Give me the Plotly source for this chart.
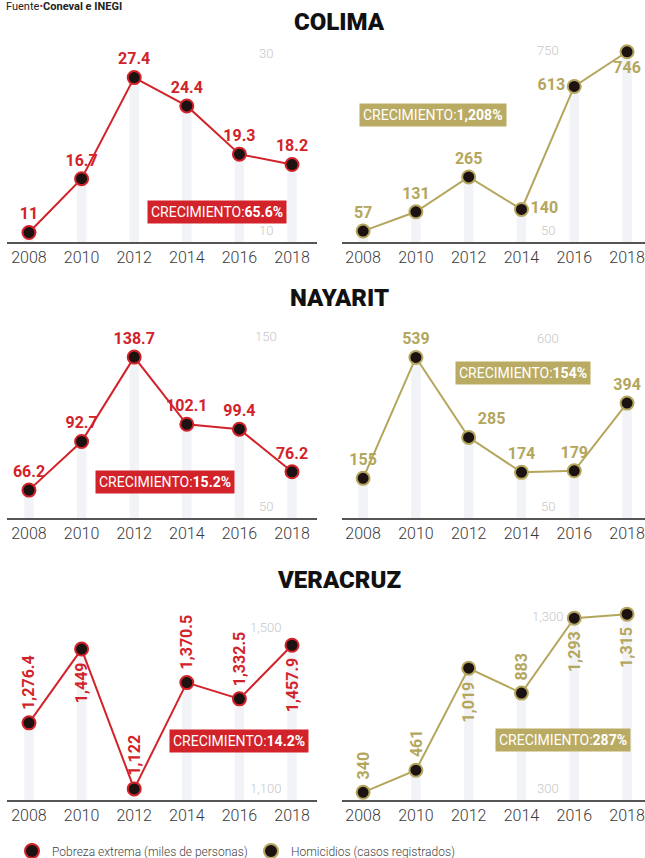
import plotly.graph_objects as go

# ---------------- data ----------------
years = ["2008", "2010", "2012", "2014", "2016", "2018"]
states = ["COLIMA", "NAYARIT", "VERACRUZ"]

pobreza_colima = [11, 16.7, 27.4, 24.4, 19.3, 18.2]
pobreza_nayarit = [66.2, 92.7, 138.7, 102.1, 99.4, 76.2]
pobreza_veracruz = [1276.4, 1449, 1122, 1370.5, 1332.5, 1457.9]

homicidios_colima = [57, 131, 265, 140, 613, 746]
homicidios_nayarit = [155, 539, 285, 174, 179, 394]
homicidios_veracruz = [340, 461, 1019, 883, 1293, 1315]

crecimiento_pobreza = ["65.6%", "15.2%", "14.2%"]
crecimiento_homicidios = ["1,208%", "154%", "287%"]

escala_pobreza_baja = [10, 50, 1100]
escala_pobreza_alta = [30, 150, 1500]
escala_homicidios_baja = [50, 50, 300]
escala_homicidios_alta = [750, 600, 1300]

nombre_pobreza = "Pobreza extrema (miles de personas)"
nombre_homicidios = "Homicidios (casos registrados)"
fuente = "Fuente<span style='color:#d2232a'>•</span><b>Coneval e INEGI</b>"

# ---------------- style ----------------
W, H = 645, 858
RED = "#d2232a"
GOLD = "#b4a65d"
GOLD_BOX = "#b9ab63"
BAR = "#f1f3f7"
MARKER_FILL = "#1c1212"
FONT = "Roboto"

def py(px):
    return 1 - px / H

row_px = [(45, 242), (325, 518), (605, 800)]       # top, axis line (pixels)
title_px = [22, 298, 580]
left_dom = [7 / W, 317 / W]
right_dom = [342 / W, 1.0]
left_xrange = [-0.418, 5.475]
right_xrange = [-0.40, 5.34]

pob_ranges = [[10, 30.85], [51, 156.2], [1096, 1552]]
hom_ranges = [[15, 772], [29, 642], [298, 1365]]

pob_textpos = [
    ["top center"] * 6,
    ["top center"] * 6,
    None,
]
hom_textpos = [
    ["top center", "top center", "top center", "middle right", "middle left", "bottom center"],
    ["top center", "top center", "top right", "top center", "top center", "top center"],
    None,
]
pob_rot_dir = [1, -1, 1, 1, 1, -1]
hom_rot_dir = [1, 1, -1, 1, -1, -1]

box_pob = [(3.57, 200), (2.59, 482), (4.0, 753)]
box_hom = [(1.33, 103), (3.03, 373), (3.79, 752)]

pobreza = [pobreza_colima, pobreza_nayarit, pobreza_veracruz]
homicidios = [homicidios_colima, homicidios_nayarit, homicidios_veracruz]

def fmt(v):
    return f"{v:,}"

fig = go.Figure()
annotations = []
layout_axes = {}

panel = 0
for r in range(3):
    for side in range(2):
        panel += 1
        xa = "x" if panel == 1 else f"x{panel}"
        ya = "y" if panel == 1 else f"y{panel}"
        xkey = "xaxis" if panel == 1 else f"xaxis{panel}"
        ykey = "yaxis" if panel == 1 else f"yaxis{panel}"
        if side == 0:
            vals = pobreza[r]
            color = RED
            boxcolor = RED
            yr = pob_ranges[r]
            tpos = pob_textpos[r]
            rot_dir = pob_rot_dir
            grow = crecimiento_pobreza[r]
            box = box_pob[r]
            low, high = escala_pobreza_baja[r], escala_pobreza_alta[r]
            dom, xr = left_dom, left_xrange
            scale_x = 4.5
        else:
            vals = homicidios[r]
            color = GOLD
            boxcolor = GOLD_BOX
            yr = hom_ranges[r]
            tpos = hom_textpos[r]
            rot_dir = hom_rot_dir
            grow = crecimiento_homicidios[r]
            box = box_hom[r]
            low, high = escala_homicidios_baja[r], escala_homicidios_alta[r]
            dom, xr = right_dom, right_xrange
            scale_x = 3.5

        top, axis = row_px[r]
        layout_axes[xkey] = dict(
            domain=dom, range=xr, type="category", anchor=ya,
            showline=True, linecolor="#555555", linewidth=1.6,
            ticks="", showgrid=False, zeroline=False, fixedrange=True,
            tickfont=dict(family=FONT, size=16, color="#3a3a3a", weight=300),
        )
        layout_axes[ykey] = dict(
            domain=[py(axis), py(top)], range=yr, anchor=xa,
            visible=False, showgrid=False, zeroline=False, fixedrange=True,
        )

        # faint vertical bars
        fig.add_trace(go.Bar(
            x=years, y=vals, xaxis=xa, yaxis=ya, width=0.18,
            marker=dict(color=BAR, line=dict(width=0)),
            hoverinfo="skip", showlegend=False,
        ))
        labels = [fmt(v) for v in vals]
        if tpos is not None:
            fig.add_trace(go.Scatter(
                x=years, y=vals, xaxis=xa, yaxis=ya, mode="lines+markers+text",
                line=dict(color=color, width=2),
                marker=dict(size=13, color=MARKER_FILL, line=dict(color=color, width=2)),
                text=labels, textposition=tpos,
                textfont=dict(family=FONT, size=16, color=color, weight=700),
                cliponaxis=False, showlegend=False,
            ))
        else:
            fig.add_trace(go.Scatter(
                x=years, y=vals, xaxis=xa, yaxis=ya, mode="lines+markers",
                line=dict(color=color, width=2),
                marker=dict(size=13, color=MARKER_FILL, line=dict(color=color, width=2)),
                cliponaxis=False, showlegend=False,
            ))
            for i, (yv, t) in enumerate(zip(vals, labels)):
                d = rot_dir[i]
                annotations.append(dict(
                    x=i, y=yv, xref=xa, yref=ya, text=f"<b>{t}</b>",
                    textangle=-90, showarrow=False,
                    yanchor="bottom" if d > 0 else "top",
                    yshift=11 * d,
                    font=dict(family=FONT, size=16, color=color),
                ))

        # scale labels
        annotations.append(dict(
            x=scale_x, y=high, xref=xa, yref=ya, text=f"{high:,}",
            showarrow=False, yanchor="middle",
            font=dict(family=FONT, size=13, color="#c8c8c8", weight=300),
        ))
        annotations.append(dict(
            x=scale_x, y=yr[0], xref=xa, yref=ya, text=f"{low:,}",
            showarrow=False, yanchor="bottom", yshift=2,
            font=dict(family=FONT, size=13, color="#c8c8c8", weight=300),
        ))
        # growth box
        annotations.append(dict(
            x=box[0], y=py(box[1]), xref=xa, yref="paper",
            text=f"CRECIMIENTO:<b>{grow}</b>", showarrow=False,
            bgcolor=boxcolor, borderpad=3,
            font=dict(family=FONT, size=14, color="white"),
        ))

for r, name in enumerate(states):
    annotations.append(dict(
        x=339 / W, y=py(title_px[r]), xref="paper", yref="paper",
        text=name, showarrow=False, yanchor="middle",
        font=dict(family=FONT, size=24, color="#111111", weight=900),
    ))

annotations.append(dict(
    x=4 / W, y=1.0, xref="paper", yref="paper", xanchor="left",
    yanchor="top", yshift=2, text=fuente, showarrow=False,
    font=dict(family=FONT, size=11, color="#222222"),
))

# legend-only traces
fig.add_trace(go.Scatter(
    x=[None], y=[None], mode="markers", name=nombre_pobreza,
    marker=dict(size=14, color=MARKER_FILL, line=dict(color=RED, width=2)),
))
fig.add_trace(go.Scatter(
    x=[None], y=[None], mode="markers", name=nombre_homicidios,
    marker=dict(size=14, color=MARKER_FILL, line=dict(color=GOLD, width=2)),
))

fig.update_layout(
    width=W, height=H,
    margin=dict(l=0, r=0, t=0, b=0, autoexpand=False),
    paper_bgcolor="white", plot_bgcolor="white",
    annotations=annotations,
    barmode="overlay",
    legend=dict(
        orientation="h", x=12 / W, y=py(851), yanchor="middle", xanchor="left",
        font=dict(family=FONT, size=12, color="#444444", weight=300),
        entrywidth=194, entrywidthmode="pixels", itemwidth=30,
    ),
    **layout_axes,
)

fig.write_html(
    "out.html",
    config={"displayModeBar": False},
    post_script="document.body.style.margin='0';document.body.style.overflow='hidden';",
)
